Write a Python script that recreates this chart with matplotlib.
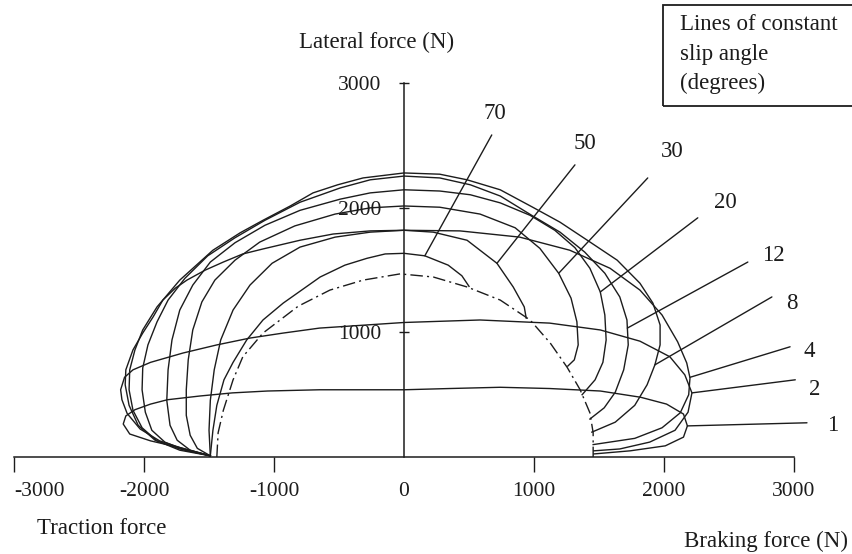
import numpy as np
import matplotlib
matplotlib.use('Agg')
from matplotlib import pyplot as plt
from matplotlib.patches import Rectangle

# ---------------- data (N) ----------------
# each slip angle curve runs from full wheel spin (left) to locked wheel (right)
slip_angles = [1, 2, 4, 8, 12, 20, 30, 50, 70]

fx_1 = [-1490, -1700, -1950, -2110, -2160, -2140, -2070, -1950, -1820, -1570, -1320, -1050, -650, 0,
        350, 740, 1120, 1510, 1820, 2020, 2150, 2180, 2150, 2010, 1740, 1460]
fy_1 = [10, 70, 130, 185, 265, 330, 380, 425, 460, 490, 515, 530, 540, 540,
        550, 560, 550, 530, 480, 425, 345, 250, 160, 90, 50, 25]

fx_2 = [-1490, -1690, -1880, -2030, -2130, -2170, -2180, -2150, -2085, -1950, -1700, -1440, -1185, -930, -650, 0,
        585, 1120, 1510, 1815, 2045, 2160, 2215, 2185, 2085, 1890, 1660, 1460]
fy_2 = [10, 65, 130, 225, 350, 460, 540, 640, 700, 760, 835, 900, 955, 995, 1035, 1080,
        1100, 1075, 1020, 930, 805, 660, 515, 360, 215, 120, 65, 50]

fx_4 = [-1490, -1725, -1915, -2045, -2115, -2145, -2140, -2085, -2010, -1930, -1855, -1760, -1670, -1530,
        -1390, -1240, -1085, -800, -545, -260, 0,
        430, 890, 1275, 1585, 1815, 1985, 2105, 2175, 2200, 2190, 2125, 1985, 1775, 1455]
fy_4 = [10, 65, 135, 255, 415, 580, 700, 860, 995, 1125, 1260, 1355, 1420, 1500,
        1565, 1630, 1670, 1740, 1790, 1815, 1820,
        1815, 1765, 1660, 1515, 1340, 1140, 925, 755, 635, 500, 355, 235, 150, 100]

fx_8 = [-1490, -1725, -1900, -2015, -2085, -2115, -2110, -2070, -2010, -1900, -1725, -1470, -1260, -1085,
        -875, -700, -510, -315, 0,
        275, 485, 740, 990, 1200, 1410, 1640, 1815, 1915, 1970, 1970, 1930, 1870, 1775, 1625, 1445]
fy_8 = [10, 55, 130, 235, 375, 540, 700, 860, 1020, 1205, 1420, 1660, 1800, 1900,
        2015, 2120, 2185, 2240, 2280,
        2270, 2225, 2145, 2005, 1885, 1740, 1580, 1395, 1235, 1060, 900, 740, 580, 415, 280, 200]

fx_12 = [-1490, -1685, -1840, -1940, -1990, -2015, -2010, -1970, -1900, -1815, -1685, -1510, -1300, -1070,
         -800, -490, -260, 0,
         275, 510, 740, 990, 1200, 1390, 1545, 1660, 1715, 1725, 1690, 1625, 1540, 1430]
fy_12 = [10, 55, 120, 215, 360, 540, 715, 900, 1085, 1260, 1435, 1615, 1760, 1900,
         2045, 2160, 2225, 2255,
         2240, 2185, 2095, 1935, 1805, 1645, 1475, 1285, 1100, 900, 700, 520, 395, 305]

fx_20 = [-1490, -1645, -1745, -1800, -1825, -1815, -1785, -1725, -1625, -1490, -1300, -1070, -800, -490, -260, 0,
         275, 510, 740, 970, 1160, 1315, 1430, 1510, 1545, 1555, 1530, 1470, 1370]
fy_20 = [10, 55, 135, 255, 455, 700, 940, 1180, 1380, 1565, 1720, 1860, 1980, 2070, 2120, 2145,
         2135, 2105, 2040, 1940, 1820, 1680, 1515, 1325, 1140, 940, 760, 620, 500]

fx_30 = [-1490, -1590, -1645, -1675, -1675, -1660, -1625, -1555, -1455, -1300, -1110, -840, -530, -260, 0,
         275, 585, 855, 1045, 1190, 1285, 1330, 1340, 1310, 1260]
fy_30 = [10, 70, 175, 335, 540, 780, 1020, 1245, 1420, 1580, 1725, 1855, 1950, 2000, 2015,
         2005, 1950, 1840, 1675, 1475, 1275, 1085, 900, 780, 730]

fx_50 = [-1490, -1500, -1490, -1460, -1410, -1315, -1185, -1015, -800, -530, -260, 0,
         225, 485, 715, 840, 925, 940]
fy_50 = [10, 215, 455, 700, 940, 1180, 1380, 1555, 1685, 1765, 1805, 1820,
         1805, 1740, 1555, 1365, 1205, 1115]

fx_70 = [-1490, -1470, -1440, -1385, -1315, -1210, -1085, -930, -645, -455, -285, -145, 0,
         160, 340, 445, 500]
fy_70 = [10, 215, 415, 620, 760, 940, 1100, 1235, 1445, 1540, 1595, 1630, 1635,
         1615, 1540, 1455, 1370]

# locked wheel line (dash-dot)
lock_fx = [-1440, -1430, -1390, -1315, -1240, -1085, -815, -570, -315, -30, 225, 485, 740,
           970, 1125, 1255, 1355, 1430, 1455, 1455]
lock_fy = [0, 195, 375, 620, 805, 995, 1210, 1340, 1420, 1470, 1445, 1365, 1260,
           1100, 915, 720, 540, 355, 195, 0]

braking = [fx_1, fx_2, fx_4, fx_8, fx_12, fx_20, fx_30, fx_50, fx_70]
lateral = [fy_1, fy_2, fy_4, fy_8, fy_12, fy_20, fy_30, fy_50, fy_70]

x_ticks = [-3000, -2000, -1000, 0, 1000, 2000, 3000]
y_ticks = [1000, 2000, 3000]

# where each label's leader line touches its curve
label_points = {1: (2180, 250), 2: (2215, 515), 4: (2200, 640), 8: (1930, 740), 12: (1718, 1035),
                20: (1510, 1325), 30: (1190, 1475), 50: (715, 1555), 70: (160, 1615)}

"""-------------- plot --------------"""
plt.rcParams['font.family'] = ['Liberation Serif', 'DejaVu Serif']
plt.rcParams['axes.unicode_minus'] = False
ink = '#1c1c1c'

fig = plt.figure(figsize=(8.53, 5.54), dpi=100, facecolor='white')
ax = fig.add_axes([0, 0, 1, 1])
ax.set_xlim(-3108, 3454)
ax.set_ylim(-778, 3668)

for fx, fy in zip(braking, lateral):
    ax.plot(fx, fy, color=ink, lw=1.0)
ax.plot(lock_fx, lock_fy, color=ink, lw=1.0, linestyle=(0, (9, 3, 1.5, 3)))

# axes through the origin
for side in ['top', 'right']:
    ax.spines[side].set_visible(False)
ax.spines['left'].set_position(('data', 0))
ax.spines['bottom'].set_position(('data', 0))
ax.spines['left'].set_bounds(0, 3000)
ax.spines['bottom'].set_bounds(-3000, 3000)
for side in ['left', 'bottom']:
    ax.spines[side].set_linewidth(1.1)
    ax.spines[side].set_color(ink)

ax.set_xticks(x_ticks)
ax.set_yticks(y_ticks)
ax.tick_params(axis='x', direction='out', length=11, width=1.0, pad=7, labelsize=15.5, colors=ink)
ax.tick_params(axis='y', direction='inout', length=7, width=1.0, pad=13, labelsize=15.5, colors=ink)
ax.xaxis.get_major_ticks()[3].tick1line.set_visible(False)
# keep the left-most label on the page
ax.get_xticklabels()[0].set_horizontalalignment('left')

# slip angle labels with leader lines
label_text = {1: (3300, 250), 2: (3160, 540), 4: (3120, 845), 8: (2985, 1235), 12: (2840, 1620),
              20: (2470, 2040), 30: (2060, 2450), 50: (1390, 2520), 70: (700, 2760)}
leader_start = {1: (3100, 275), 2: (3010, 620), 4: (2970, 885), 8: (2830, 1285), 12: (2645, 1565),
                20: (2260, 1920), 30: (1875, 2240), 50: (1315, 2345), 70: (675, 2585)}
for a in slip_angles:
    ax.annotate('', xy=label_points[a], xytext=leader_start[a],
                arrowprops=dict(arrowstyle='-', color=ink, lw=1.0, shrinkA=0, shrinkB=0))
    ax.text(*label_text[a], str(a), ha='center', va='center', fontsize=16.5, color=ink)

ax.text(-215, 3330, 'Lateral force (N)', ha='center', va='center', fontsize=16.5, color=ink)
ax.text(-2823, -570, 'Traction force', ha='left', va='center', fontsize=16.5, color=ink)
ax.text(3415, -674, 'Braking force (N)', ha='right', va='center', fontsize=16.5, color=ink)

# legend box, top right (runs off the page edge as in the source)
ax.add_patch(Rectangle((663 / 853, 1 - 106 / 554), 0.3, 101 / 554, transform=ax.transAxes,
                       fill=False, lw=1.3, ec=ink, clip_on=False))
for i, line in enumerate(['Lines of constant', 'slip angle', '(degrees)']):
    ax.text(680 / 853, 1 - (25 + 29 * i) / 554, line, transform=ax.transAxes,
            ha='left', va='center', fontsize=16.5, color=ink)

plt.savefig('out.png', dpi=100)
